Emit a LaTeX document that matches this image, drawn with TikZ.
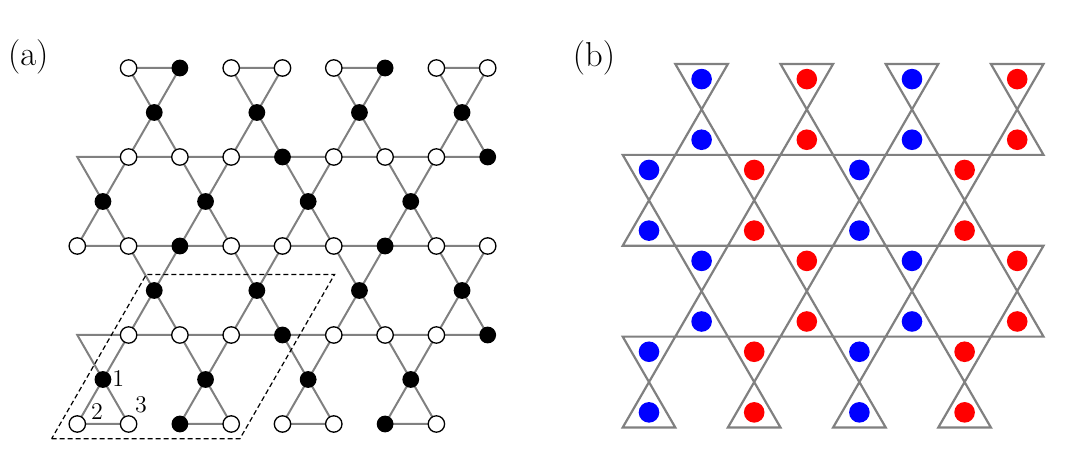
\documentclass[tikz,border=0pt]{standalone}
\begin{document}
\begin{tikzpicture}[
  x=0.5pt, y=0.5pt,
  bond/.style={draw=gray, line width=1pt},
  tri/.style={draw=gray, line width=1.1pt},
  osite/.style={circle,draw,fill=white,line width=0.65pt,minimum size=8.2pt,inner sep=0},
  fsite/.style={circle,fill=black,minimum size=8.4pt,inner sep=0},
  spin/.style={circle,fill=#1,minimum size=10.3pt,inner sep=0},
  panel/.style={font=\LARGE,inner sep=0},
  num/.style={font=\large,inner sep=0},
  cell/.style={draw,line width=0.6pt,dash pattern=on 2.5pt off 1.5pt},
]
  \useasboundingbox (0,0) rectangle (1067,450);
  \node[panel] (lbla) at (28.3,393) {(a)};
  \node[panel] (lblb) at (594,392) {(b)};

  \begin{scope}[shift={(77.3,26)}, x=12.825pt, y=22.25pt]
    \foreach \r in {0,2,4,6,8}
      \foreach \h in {0,2,...,16}
        \coordinate (a-\h-\r) at (\h,\r);
    \foreach \r/\hs in {1/{1,5,9,13}, 3/{3,7,11,15}, 5/{1,5,9,13}, 7/{3,7,11,15}}
      \foreach \h in \hs {
        \pgfmathtruncatemacro\hl{\h-1}
        \pgfmathtruncatemacro\hr{\h+1}
        \pgfmathtruncatemacro\rl{\r-1}
        \pgfmathtruncatemacro\ru{\r+1}
        \coordinate (a-\h-\r) at (\h,\r);
        \draw[bond] (a-\hl-\rl) -- (a-\hr-\ru) -- (a-\hl-\ru) -- (a-\hr-\rl) -- cycle;
      }
    \foreach \r/\hs in {0/{0,2,6,8,10,14}, 2/{2,4,6,10,12,14}, 4/{0,2,6,8,10,14,16},
                        6/{2,4,6,10,12,14}, 8/{2,6,8,10,14,16}}
      \foreach \h in \hs
        \node[osite] (s-\h-\r) at (a-\h-\r) {};
    \foreach \r/\hs in {0/{4,12}, 1/{1,5,9,13}, 2/{8,16}, 3/{3,7,11,15}, 4/{4,12},
                        5/{1,5,9,13}, 6/{8,16}, 7/{3,7,11,15}, 8/{4,12}}
      \foreach \h in \hs
        \node[fsite] (s-\h-\r) at (a-\h-\r) {};

    \node[num] (n1) at ([shift={(7.6pt,0.5pt)}]s-1-1) {1};
    \node[num] (n2) at ([shift={(9.9pt,6.4pt)}]s-0-0) {2};
    \node[num] (n3) at ([shift={(6.2pt,9.7pt)}]s-2-0) {3};

    \draw[cell] (-1,-0.33) -- (6.34,-0.33) -- (10.03,3.36) -- (2.69,3.36) -- cycle;
  \end{scope}

  \begin{scope}[shift={(622.7,22.5)}, x=13.15pt, y=22.72pt]
    \foreach \r in {0,2,4,6,8}
      \foreach \h in {0,2,...,16}
        \coordinate (b-\h-\r) at (\h,\r);
    \foreach \r/\hs in {1/{1/blue,5/red,9/blue,13/red}, 3/{3/blue,7/red,11/blue,15/red},
                        5/{1/blue,5/red,9/blue,13/red}, 7/{3/blue,7/red,11/blue,15/red}}
      \foreach \h/\col in \hs {
        \pgfmathtruncatemacro\hl{\h-1}
        \pgfmathtruncatemacro\hr{\h+1}
        \pgfmathtruncatemacro\rl{\r-1}
        \pgfmathtruncatemacro\ru{\r+1}
        \draw[tri] (b-\hl-\rl) -- (b-\hr-\ru) -- (b-\hl-\ru) -- (b-\hr-\rl) -- cycle;
        \node[spin=\col] (up-\h-\r) at (\h,\r-0.667) {};
        \node[spin=\col] (dn-\h-\r) at (\h,\r+0.667) {};
      }
  \end{scope}
\end{tikzpicture}
\end{document}
